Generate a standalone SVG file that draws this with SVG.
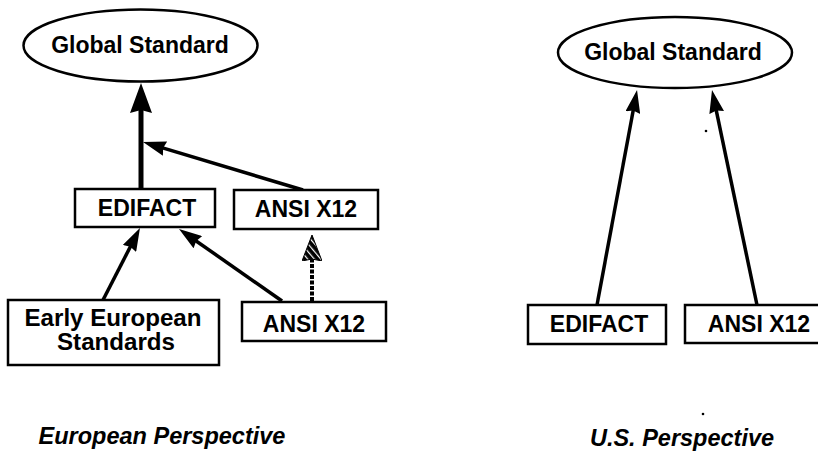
<svg xmlns="http://www.w3.org/2000/svg" width="818" height="453" viewBox="0 0 818 453">
<style>
  .box { fill: #fff; stroke: #000; stroke-width: 2.5; }
  .ell { fill: #fff; stroke: #000; stroke-width: 2.5; }
  .lbl { font-family: "Liberation Sans", Arial, sans-serif; font-weight: bold; font-size: 23px; fill: #000; text-anchor: middle; }
  .cap { font-family: "Liberation Sans", Arial, sans-serif; font-weight: bold; font-style: italic; font-size: 23.5px; fill: #000; text-anchor: middle; }
  .edge { stroke: #000; fill: none; stroke-width: 3.5; }
  .thick { stroke-width: 5; }
  .dashed { stroke-dasharray: 4 1.5; stroke-width: 4; }
</style>
<defs>
  <marker id="big" markerUnits="userSpaceOnUse" markerWidth="30" markerHeight="22" refX="20" refY="11" orient="auto">
    <path d="M0,0 L30,11 L0,22 L3,11 z" fill="#000"/>
  </marker>
  <marker id="med" markerUnits="userSpaceOnUse" markerWidth="23" markerHeight="15" refX="13" refY="7.5" orient="auto">
    <path d="M0,0 L23,7.5 L0,15 L2,7.5 z" fill="#000"/>
  </marker>
  <pattern id="hatch" patternUnits="userSpaceOnUse" width="5" height="5" patternTransform="rotate(-40)">
    <rect width="5" height="5" fill="#000"/>
    <rect width="5" height="1.2" fill="#fff"/>
  </pattern>
  <marker id="hat" markerUnits="userSpaceOnUse" markerWidth="26" markerHeight="20" refX="16" refY="10" orient="auto">
    <path d="M0,0 L26,10 L0,20 L2,10 z" fill="url(#hatch)" stroke="#000" stroke-width="1"/>
  </marker>
</defs>

<g id="connectors">
  <line class="edge thick" x1="141" y1="189" x2="141" y2="93" marker-end="url(#big)"/>
  <line class="edge" x1="303" y1="190" x2="152.6" y2="144.9" marker-end="url(#med)"/>
  <line class="edge" x1="103" y1="300" x2="135.4" y2="236.9" marker-end="url(#med)"/>
  <line class="edge" x1="282" y1="301" x2="187.2" y2="234.7" marker-end="url(#med)"/>
  <line class="edge dashed" x1="312" y1="301" x2="312" y2="245" marker-end="url(#hat)"/>
  <line class="edge" stroke-width="3" x1="597" y1="305" x2="635.2" y2="99.8" marker-end="url(#med)"/>
  <line class="edge" stroke-width="3" x1="757" y1="305" x2="714.05" y2="99.8" marker-end="url(#med)"/>
</g>

<g id="eu-global">
  <ellipse class="ell" cx="140.5" cy="45.5" rx="117" ry="36"/>
  <text class="lbl" x="140" y="53" font-size="24">Global Standard</text>
</g>
<g id="eu-edifact">
  <rect class="box" x="75" y="189" width="140" height="38"/>
  <text class="lbl" x="147" y="216">EDIFACT</text>
</g>
<g id="eu-ansi-top">
  <rect class="box" x="234" y="190" width="144" height="39"/>
  <text class="lbl" x="306" y="217">ANSI X12</text>
</g>
<g id="eu-early">
  <rect class="box" x="8" y="300" width="211" height="65"/>
  <text class="lbl" x="113" y="326" font-size="21" textLength="177" lengthAdjust="spacingAndGlyphs">Early European</text>
  <text class="lbl" x="116" y="350" font-size="21" textLength="118" lengthAdjust="spacingAndGlyphs">Standards</text>
</g>
<g id="eu-ansi-bottom">
  <rect class="box" x="242" y="302" width="144" height="39"/>
  <text class="lbl" x="314" y="332">ANSI X12</text>
</g>
<text class="cap" x="162" y="444">European Perspective</text>

<g id="us-global">
  <ellipse class="ell" cx="675" cy="52.5" rx="117" ry="35.5"/>
  <text class="lbl" x="673" y="60" font-size="24">Global Standard</text>
</g>
<g id="us-edifact">
  <rect class="box" x="528" y="305" width="138" height="39"/>
  <text class="lbl" x="599" y="332">EDIFACT</text>
</g>
<g id="us-ansi">
  <rect class="box" x="685" y="305" width="140" height="38"/>
  <text class="lbl" x="759" y="332">ANSI X12</text>
</g>
<text class="cap" x="682" y="446">U.S. Perspective</text>

<circle cx="706" cy="131" r="1.3" fill="#000"/>
<circle cx="703" cy="414" r="1.3" fill="#000"/>
</svg>
